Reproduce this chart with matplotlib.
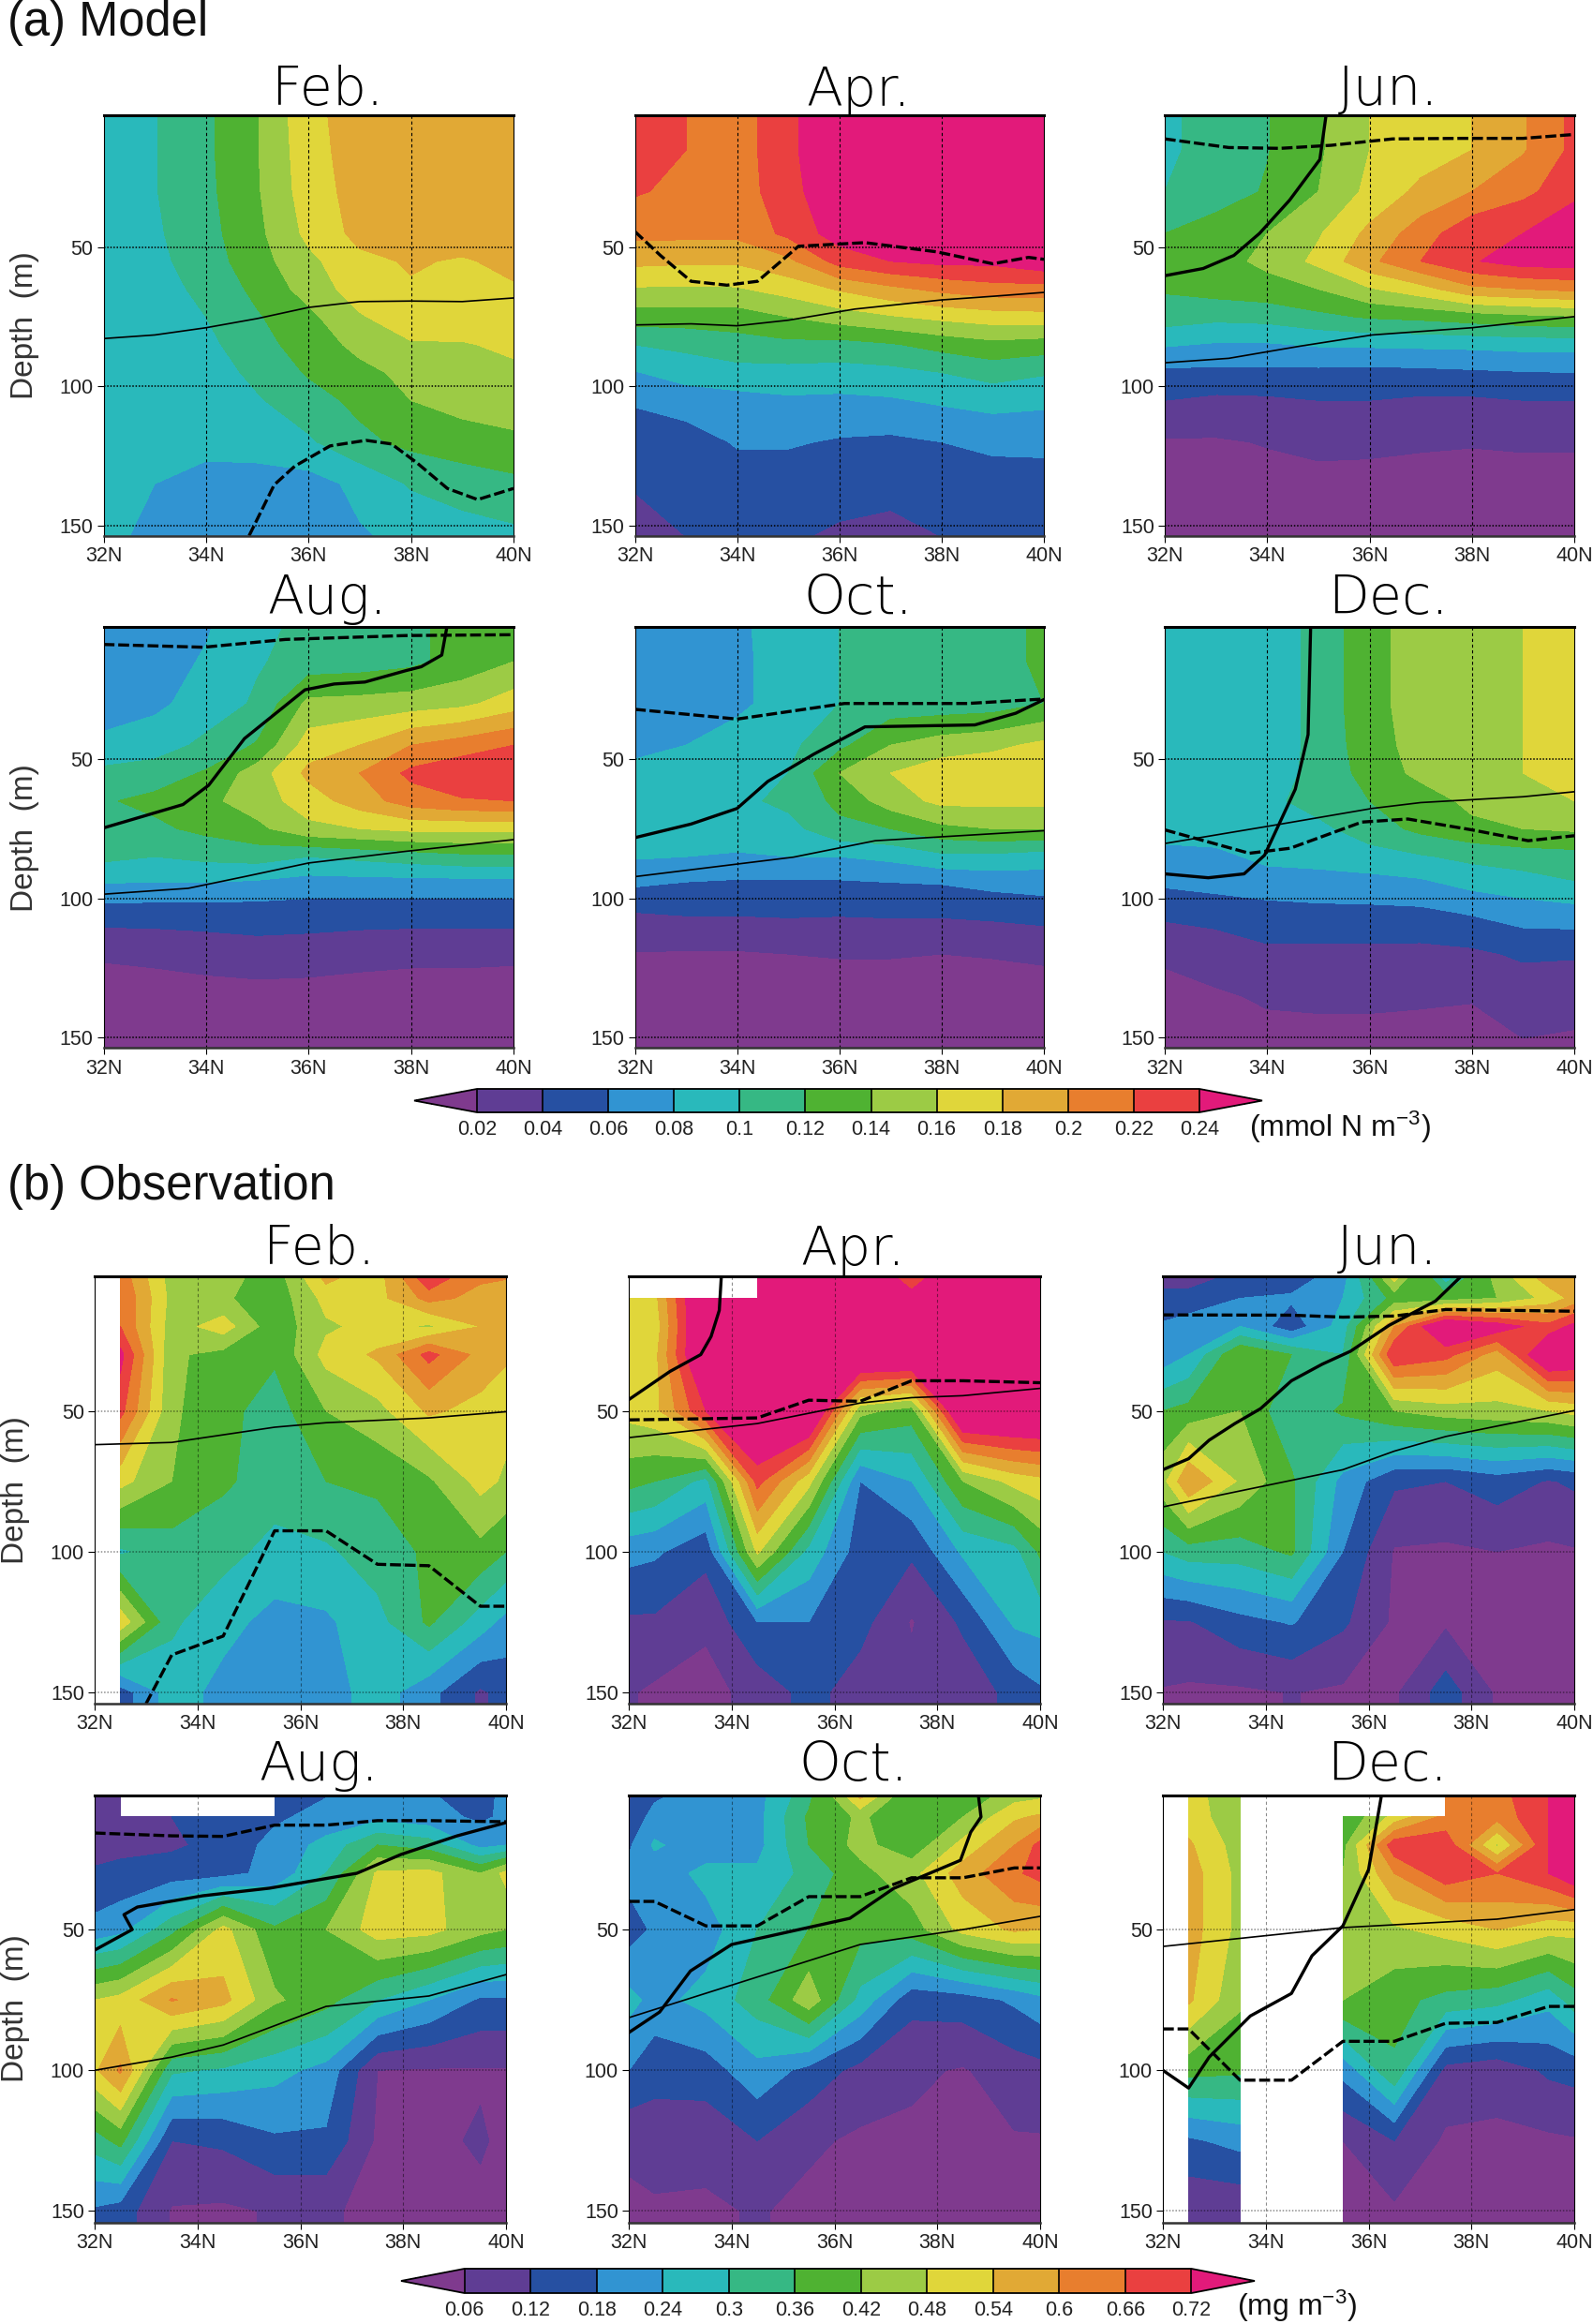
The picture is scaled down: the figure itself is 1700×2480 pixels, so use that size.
import matplotlib
matplotlib.use("Agg")
import matplotlib.pyplot as plt
import numpy as np

plt.rcParams['font.family'] = ['Liberation Sans', 'DejaVu Sans']
plt.rcParams['mathtext.default'] = 'regular'

W, H = 1700, 2480
nan = np.nan

colors = ['#7F3A8E', '#5F3D94', '#2650A2', '#3194D2', '#29B9BB', '#36B884', '#4FB232',
          '#9CCB45', '#E0D63A', '#E1A935', '#E87E2E', '#EA4040', '#E21A7A']
model_levels = [0.02, 0.04, 0.06, 0.08, 0.1, 0.12, 0.14, 0.16, 0.18, 0.2, 0.22, 0.24]
obs_levels = [0.06, 0.12, 0.18, 0.24, 0.3, 0.36, 0.42, 0.48, 0.54, 0.6, 0.66, 0.72]
model_ticklabels = ['0.02', '0.04', '0.06', '0.08', '0.1', '0.12', '0.14', '0.16', '0.18', '0.2', '0.22', '0.24']
obs_ticklabels = ['0.06', '0.12', '0.18', '0.24', '0.3', '0.36', '0.42', '0.48', '0.54', '0.6', '0.66', '0.72']
months = ['Feb.', 'Apr.', 'Jun.', 'Aug.', 'Oct.', 'Dec.']
lat_ticks = [32, 34, 36, 38, 40]
lat_labels = ['32N', '34N', '36N', '38N', '40N']
depth_ticks = [50, 100, 150]

# Model section, mmol N m-3
model_lat = [32, 33, 34, 35, 36, 37, 38, 39, 40]
model_depth = [2.5, 15, 30, 45, 55, 65, 75, 85, 95, 105, 120, 135, 154]

m_feb = [
    [.095, .099, .116, .139, .174, .19, .19, .19, .19],
    [.09, .099, .116, .139, .172, .19, .19, .19, .19],
    [.09, .099, .115, .138, .17, .188, .19, .19, .19],
    [.09, .097, .113, .135, .165, .186, .19, .19, .19],
    [.09, .095, .11, .132, .155, .175, .182, .178, .185],
    [.09, .092, .105, .125, .148, .17, .178, .178, .178],
    [.09, .09, .10, .118, .135, .158, .172, .175, .175],
    [.09, .088, .095, .112, .13, .145, .158, .158, .165],
    [.09, .087, .09, .105, .122, .135, .145, .15, .155],
    [.09, .086, .088, .098, .112, .125, .14, .148, .152],
    [.088, .085, .085, .09, .097, .115, .125, .13, .135],
    [.082, .08, .074, .07, .072, .085, .102, .11, .115],
    [.085, .075, .07, .07, .07, .078, .085, .09, .095],
]
m_apr = [
    [.225, .22, .21, .235, .26, .27, .27, .27, .27],
    [.225, .22, .21, .235, .26, .27, .27, .27, .27],
    [.222, .215, .21, .232, .258, .27, .27, .27, .27],
    [.205, .205, .205, .225, .25, .26, .27, .27, .27],
    [.185, .183, .183, .195, .228, .24, .245, .245, .255],
    [.158, .157, .158, .168, .182, .195, .205, .212, .212],
    [.13, .13, .13, .14, .15, .158, .165, .17, .172],
    [.10, .105, .112, .115, .113, .118, .127, .134, .13],
    [.079, .088, .093, .093, .092, .094, .10, .108, .102],
    [.062, .07, .073, .077, .076, .078, .083, .087, .084],
    [.05, .05, .062, .062, .058, .056, .06, .065, .066],
    [.042, .05, .05, .05, .05, .05, .05, .05, .05],
    [.03, .04, .045, .043, .036, .03, .04, .045, .045],
]
m_jun = [
    [.095, .11, .119, .137, .16, .17, .18, .198, .225],
    [.095, .11, .119, .137, .16, .17, .18, .198, .225],
    [.10, .11, .122, .14, .165, .185, .20, .215, .232],
    [.12, .13, .14, .158, .185, .21, .235, .24, .265],
    [.125, .132, .145, .165, .195, .22, .238, .25, .25],
    [.122, .128, .132, .14, .158, .172, .195, .20, .205],
    [.11, .105, .107, .115, .122, .125, .13, .135, .138],
    [.082, .078, .078, .082, .083, .084, .085, .087, .087],
    [.056, .055, .055, .055, .054, .055, .057, .059, .06],
    [.04, .036, .037, .04, .04, .037, .037, .04, .04],
    [.018, .018, .021, .025, .024, .022, .021, .022, .022],
    [.014, .014, .014, .014, .014, .014, .014, .014, .014],
    [.01, .01, .01, .01, .01, .01, .01, .01, .01],
]
m_aug = [
    [.07, .07, .078, .095, .105, .11, .117, .125, .135],
    [.07, .072, .082, .098, .108, .11, .115, .128, .14],
    [.07, .076, .088, .103, .145, .147, .15, .155, .17],
    [.085, .09, .105, .122, .17, .18, .20, .21, .22],
    [.105, .11, .122, .15, .185, .20, .225, .235, .235],
    [.118, .125, .135, .15, .17, .19, .21, .218, .22],
    [.115, .116, .125, .135, .155, .16, .165, .165, .165],
    [.105, .10, .105, .108, .10, .105, .11, .115, .115],
    [.079, .078, .078, .075, .07, .07, .07, .07, .07],
    [.05, .05, .05, .05, .05, .05, .05, .05, .05],
    [.022, .024, .028, .032, .03, .026, .024, .024, .023],
    [.012, .012, .012, .012, .012, .012, .012, .012, .012],
    [.01, .01, .01, .01, .01, .01, .01, .01, .01],
]
m_oct = [
    [.07, .07, .076, .09, .10, .11, .11, .11, .125],
    [.07, .07, .076, .088, .10, .108, .11, .11, .125],
    [.07, .072, .075, .09, .10, .108, .108, .11, .12],
    [.075, .08, .09, .095, .115, .14, .15, .155, .165],
    [.085, .088, .09, .10, .14, .16, .172, .175, .18],
    [.085, .085, .095, .105, .125, .15, .165, .165, .165],
    [.085, .085, .09, .093, .115, .12, .135, .14, .14],
    [.082, .08, .078, .08, .08, .085, .095, .095, .09],
    [.062, .058, .056, .056, .056, .058, .06, .065, .068],
    [.04, .042, .042, .043, .042, .043, .043, .045, .048],
    [.019, .018, .018, .02, .021, .021, .02, .021, .023],
    [.012, .012, .012, .012, .012, .012, .012, .012, .012],
    [.01, .01, .01, .01, .01, .01, .01, .01, .01],
]
m_dec = [
    [.09, .09, .09, .105, .135, .147, .152, .16, .172],
    [.09, .09, .09, .105, .135, .147, .152, .16, .172],
    [.09, .09, .09, .105, .135, .147, .152, .16, .172],
    [.09, .09, .09, .105, .132, .147, .152, .16, .172],
    [.09, .09, .092, .105, .128, .145, .15, .16, .17],
    [.09, .09, .095, .108, .12, .13, .145, .152, .16],
    [.09, .09, .09, .095, .11, .125, .135, .14, .143],
    [.072, .075, .085, .088, .092, .098, .105, .11, .112],
    [.062, .066, .07, .07, .072, .075, .085, .09, .098],
    [.045, .048, .052, .055, .055, .056, .062, .07, .072],
    [.022, .028, .036, .035, .035, .034, .036, .043, .042],
    [.016, .018, .022, .023, .023, .022, .021, .028, .027],
    [.012, .012, .014, .014, .014, .014, .014, .018, .016],
]

# Observation section, mg m-3
obs_lat = [32, 32.5, 33.5, 34.5, 35.5, 36.5, 37.5, 38.5, 39.5, 40]
obs_depth = [0, 10, 20, 30, 50, 75, 100, 125, 150, 160]

o_feb = [
    [nan, .63, .45, .45, .39, .58, .51, .75, .62, .62],
    [nan, .66, .46, .43, .38, .50, .52, .62, .58, .56],
    [nan, .66, .45, .51, .38, .47, .50, .47, .54, .56],
    [nan, .74, .43, .40, .37, .50, .55, .68, .58, .55],
    [nan, .68, .43, .38, .33, .42, .46, .55, .52, .50],
    [nan, .50, .42, .37, .33, .36, .37, .41, .50, .47],
    [nan, .29, .33, .32, .28, .29, .33, .37, .40, .36],
    [nan, .52, .31, .26, .22, .23, .28, .37, .27, .22],
    [nan, .15, .27, .22, .21, .21, .27, .20, .11, .14],
    [nan, .15, .27, .22, .21, .21, .27, .20, .11, .14],
]
o_apr = [
    [nan, nan, nan, .8, .8, .8, .65, .8, .8, .8],
    [.5, .52, .85, .85, .85, .85, .75, .85, .85, .85],
    [.5, .5, .85, .85, .85, .85, .85, .85, .85, .85],
    [.5, .52, .85, .85, .85, .85, .85, .85, .85, .85],
    [.5, .52, .72, .85, .85, .44, .39, .85, .85, .85],
    [.38, .36, .28, .68, .50, .18, .24, .42, .50, .52],
    [.20, .19, .14, .49, .28, .15, .13, .25, .28, .37],
    [.11, .11, .07, .18, .18, .14, .055, .13, .25, .26],
    [.065, .05, .04, .08, .14, .09, .08, .08, .14, .17],
    [.065, .05, .04, .08, .14, .09, .08, .08, .14, .17],
]
o_jun = [
    [.10, .10, .12, .13, .20, .55, .22, .46, .60, .57],
    [.13, .13, .18, .19, .24, .38, .39, .42, .50, .56],
    [.19, .22, .24, .14, .27, .60, .82, .76, .68, .74],
    [.20, .24, .42, .36, .30, .72, .68, .57, .82, .80],
    [.36, .38, .42, .31, .37, .42, .45, .46, .48, .50],
    [.46, .60, .47, .37, .22, .13, .12, .15, .115, .13],
    [.30, .33, .33, .37, .18, .055, .05, .06, .05, .055],
    [.115, .115, .16, .185, .13, .05, .05, .05, .05, .05],
    [.055, .05, .05, .062, .05, .05, .15, .05, .05, .05],
    [.055, .05, .05, .062, .05, .05, .15, .05, .05, .05],
]
o_aug = [
    [.10, .10, nan, nan, .15, .17, .20, .18, .15, .20],
    [.09, .09, .12, .15, .17, .20, .22, .20, .17, .19],
    [.09, .10, .11, .14, .20, .26, .36, .33, .22, .24],
    [.13, .14, .15, .16, .20, .30, .49, .50, .42, .50],
    [.20, .22, .34, .50, .37, .42, .51, .50, .44, .42],
    [.48, .50, .605, .56, .43, .38, .30, .24, .17, .17],
    [.53, .61, .31, .29, .26, .22, .06, .055, .055, .055],
    [.33, .38, .12, .13, .17, .17, .05, .05, .065, .05],
    [.17, .15, .055, .05, .065, .065, .05, .05, .05, .05],
    [.17, .15, .055, .05, .065, .065, .05, .05, .05, .05],
]
o_oct = [
    [.10, .16, .20, .22, .33, .60, .38, .38, .43, .44],
    [.14, .20, .22, .22, .37, .43, .37, .42, .53, .55],
    [.17, .25, .20, .22, .36, .44, .38, .50, .60, .68],
    [.20, .20, .26, .25, .32, .40, .46, .57, .65, .68],
    [.15, .19, .21, .30, .36, .38, .39, .50, .55, .54],
    [.26, .22, .26, .33, .46, .28, .14, .15, .19, .22],
    [.18, .14, .15, .22, .16, .10, .07, .055, .09, .10],
    [.07, .09, .08, .12, .07, .05, .05, .05, .055, .055],
    [.05, .05, .05, .065, .045, .045, .045, .045, .045, .045],
    [.05, .05, .05, .065, .045, .045, .045, .045, .045, .045],
]
o_dec = [
    [nan, .50, .44, nan, .36, nan, .60, .64, .72, .74],
    [nan, .51, .44, nan, .36, .50, .62, .62, .72, .75],
    [nan, .55, .45, nan, .40, .70, .70, .47, .72, .78],
    [nan, .57, .46, nan, .42, .60, .70, .66, .72, .78],
    [nan, .57, .46, nan, .45, .47, .50, .54, .50, .50],
    [nan, .55, .43, nan, .42, .38, .34, .32, .26, .33],
    [nan, .38, .37, nan, .20, .35, .10, .08, .13, .14],
    [nan, .17, .20, nan, .06, .12, .05, .05, .05, .055],
    [nan, .07, .07, nan, .045, .05, .045, .045, .045, .045],
    [nan, .07, .07, nan, .045, .05, .045, .045, .045, .045],
]

# Contour lines drawn over the sections: (latitudes, depths)
m_thick = [
    None,
    None,
    ([35.15, 35.03, 34.44, 33.85, 33.35, 32.75, 32], [2.7, 18.4, 33, 45, 52.9, 57.6, 60.2]),
    ([32, 33.55, 34.05, 34.75, 35.93, 36.5, 37.1, 37.9, 38.2, 38.6, 38.7],
     [74.7, 66.3, 59.4, 42.6, 25.1, 23, 22.3, 18.2, 16.8, 12.6, 2.5]),
    ([32, 33.1, 34, 34.6, 35.5, 36.5, 38.65, 39.45, 40], [78.2, 73.3, 67.7, 58, 48.2, 38.4, 37.7, 33.5, 28.6]),
    ([32, 32.85, 33.55, 33.95, 34.55, 34.8, 34.85], [91.2, 92.6, 91.2, 84.5, 60.8, 41.2, 2.5]),
]
m_dashed = [
    ([34.84, 35.33, 35.73, 36.42, 37.12, 37.62, 38.11, 38.71, 39.3, 40],
     [153.7, 135.4, 128.7, 121.4, 119.4, 120.7, 127.4, 136.7, 140.7, 136.7]),
    ([32, 32.5, 33.1, 33.8, 34.4, 35.2, 36.5, 37.9, 39, 39.7, 40],
     [44.3, 52.9, 62.2, 63.6, 62.2, 49.6, 48.3, 51.6, 55.9, 53.6, 54.3]),
    ([32, 33.25, 34.25, 35.25, 36.45, 37.8, 39, 40], [11, 14.1, 14.4, 13.3, 11, 10.8, 10.8, 9.4]),
    ([32, 33.95, 35.55, 37.9, 40], [8.8, 9.8, 7, 5.6, 5.3]),
    ([32, 34, 36.1, 38.5, 40], [32.1, 35.6, 30, 30, 28.4]),
    ([32, 33.65, 34.45, 35.85, 36.75, 38, 39.1, 40], [75.4, 83.8, 82, 72.6, 71.5, 75.4, 79.3, 77.5]),
]
m_thin = [
    ([32, 33, 34, 35, 36, 37, 38, 39, 40], [82.8, 81.5, 78.9, 75.6, 71.6, 69.5, 69.3, 69.5, 68.2]),
    ([32, 33.1, 34, 35, 36.3, 38, 39, 40], [77.9, 77.5, 78.2, 76.2, 72.2, 68.9, 67.6, 66.2]),
    ([32, 33.25, 34.65, 36.05, 38, 40], [91.5, 89.9, 85.5, 81.5, 78.9, 74.9]),
    ([32, 33.65, 34.75, 36, 37.9, 40], [98.5, 96.4, 92.2, 87.3, 83.1, 78.9]),
    ([32, 35.1, 36.7, 40], [92.2, 85.2, 79.3, 75.7]),
    ([32, 34.05, 36.05, 37, 39, 40], [80.3, 74, 67.7, 65.6, 63.5, 61.7]),
]
o_thick = [
    None,
    ([33.8, 33.76, 33.6, 33.4, 32.8, 32], [2.2, 14.3, 23.6, 30, 36, 46]),
    ([32, 32.5, 32.9, 33.4, 33.9, 34.5, 35.1, 35.65, 36.4, 37.3, 37.8],
     [70.9, 67, 60.4, 54.5, 49.2, 39.3, 33.4, 28.8, 19.6, 11, 2.2]),
    ([32, 32.73, 32.57, 32.83, 34.1, 35.4, 37.1, 37.96, 39.05, 40],
     [57.3, 50, 44.7, 42, 38, 35.3, 30, 23.3, 16.7, 12]),
    ([32, 32.6, 33.2, 34, 36.3, 37.15, 38.45, 38.65, 38.85, 38.8],
     [86.6, 79.3, 64.7, 55.3, 46, 35.4, 25.4, 15.4, 10, 2.4]),
    ([32, 32.5, 32.9, 33.7, 34.5, 34.9, 35.5, 36, 36.25], [100, 106.3, 95.3, 80.7, 72.7, 59.3, 48.7, 28.7, 2.4]),
]
o_dashed = [
    ([33, 33.5, 34.5, 35.5, 36.5, 37.5, 38.5, 39.5, 40], [154, 136.7, 130, 92.6, 92.6, 104.5, 105, 119.4, 119.4]),
    ([32, 34.5, 35.5, 36.5, 37.5, 38.5, 40], [53.2, 52.5, 46.2, 46.6, 39.3, 39.3, 40]),
    ([32, 34.5, 35.5, 36.5, 37.5, 40], [15.9, 16, 16.7, 16.3, 14, 14.6]),
    ([32, 33.5, 34.5, 35.5, 36.5, 37.5, 38.5, 40], [15.7, 16.7, 16.9, 12.9, 12.9, 11.3, 11.3, 11.7]),
    ([32, 32.5, 33.5, 34.5, 35.5, 36.5, 37.5, 38.5, 39.5, 40], [40, 40, 48.7, 48.7, 38.3, 38.3, 31.6, 31.6, 28.1, 28.1]),
    ([32, 32.5, 33.5, 34.5, 35.5, 36.5, 37.5, 38.5, 39.5, 40], [85.3, 85.3, 103.5, 103.5, 89.7, 89.7, 83.3, 83, 77.3, 77.3]),
]
o_thin = [
    ([32, 33.5, 35.5, 36.5, 38.5, 40], [62, 61.2, 55.8, 54.2, 52.5, 50.3]),
    ([32, 34.5, 36.5, 37.5, 38.5, 40], [59.5, 54.5, 47.2, 45.3, 44.6, 42]),
    ([32, 35.5, 36.5, 37.5, 38.5, 40], [84.1, 70.9, 64.3, 59.1, 55.4, 49.9]),
    ([32, 33.5, 34.5, 36.5, 38.5, 40], [100, 95.3, 91, 77.3, 73.6, 66]),
    ([32, 36.5, 38.5, 40], [81.3, 55.3, 50, 45.3]),
    ([32, 35.5, 38.5, 40], [56, 49.3, 46.3, 42.9]),
]


def add_axes_px(fig, x0, y0, x1, y1):
    return fig.add_axes([x0 / W, 1 - y1 / H, (x1 - x0) / W, (y1 - y0) / H])


def draw_panel(fig, box, lat, depth, z, levels, thick, dashed, thin, ylim, grid_alpha, title, title_y, ylabel_x=None):
    ax = add_axes_px(fig, *box)
    cf = ax.contourf(lat, depth, np.array(z), levels=levels, colors=colors, extend='both', corner_mask=False)
    ax.set_xlim(32, 40)
    ax.set_ylim(*ylim)
    ax.set_xticks(lat_ticks)
    ax.set_xticklabels(lat_labels, fontsize=15.5, color='#222222')
    ax.set_yticks(depth_ticks)
    ax.set_yticklabels([str(d) for d in depth_ticks], fontsize=15.5, color='#222222')
    ax.tick_params(length=5, width=0.8, pad=3)
    ax.vlines(lat_ticks[1:-1], ylim[1], ylim[0], colors='k', linewidth=0.8, linestyles=(0, (3, 2.5)), alpha=grid_alpha)
    ax.hlines(depth_ticks, 32, 40, colors='k', linewidth=1.1, linestyles=(0, (1, 1.2)), alpha=grid_alpha)

    if thin is not None:
        ax.plot(thin[0], thin[1], color='k', linewidth=1.2)
    if thick is not None:
        ax.plot(thick[0], thick[1], color='k', linewidth=2.4)
    ax.plot(dashed[0], dashed[1], color='k', linewidth=2.4, linestyle=(0, (3.5, 1.2)))

    for side in ['left', 'right']:
        ax.spines[side].set_linewidth(0.8)
    ax.spines['top'].set_linewidth(2.2)
    ax.spines['bottom'].set_linewidth(1.8)
    ax.spines['bottom'].set_color('#333333')

    cx = (box[0] + box[2]) / 2 + 20
    fig.text(cx / W, 1 - title_y / H, title, ha='center', va='baseline', fontsize=41,
             family=['DejaVu Sans'], fontweight=200, color='k')
    if ylabel_x is not None:
        fig.text(ylabel_x / W, 1 - (box[1] + box[3]) / 2 / H, 'Depth  (m)', rotation=90, ha='center', va='center',
                 fontsize=24, color='#333333')
    return cf


def draw_colorbar(fig, cf, box, labels, unit, unit_x, unit_y):
    cax = add_axes_px(fig, *box)
    cb = fig.colorbar(cf, cax=cax, orientation='horizontal', extend='both', extendfrac=0.087, drawedges=True)
    cb.set_ticks(cf.levels)
    cb.set_ticklabels(labels, fontsize=15.5, color='#222222')
    cb.ax.tick_params(length=0, pad=6)
    cb.outline.set_linewidth(1.3)
    cb.dividers.set_linewidth(1.2)
    fig.text(unit_x / W, 1 - unit_y / H, unit, ha='left', va='center', fontsize=23, color='#111111')


fig = plt.figure(figsize=(W / 100, H / 100), dpi=100)

fig.text(8 / W, 1 - 38 / H, '(a) Model', ha='left', va='baseline', fontsize=36.5, color='#111111')
fig.text(8 / W, 1 - 1280 / H, '(b) Observation', ha='left', va='baseline', fontsize=36.5, color='#111111')

col_m = [(110.5, 548), (677.5, 1114), (1243, 1680)]
row_m = [(123, 572, 112), (669, 1118.5, 655)]
col_o = [(101, 540), (671, 1110), (1241, 1680)]
row_o = [(1362, 1818, 1349), (1915.5, 2371.5, 1900)]

model_fields = [m_feb, m_apr, m_jun, m_aug, m_oct, m_dec]
obs_fields = [o_feb, o_apr, o_jun, o_aug, o_oct, o_dec]

for i in range(6):
    c = i % 3
    r = i // 3
    x0, x1 = col_m[c]
    y0, y1, ty = row_m[r]
    cf_m = draw_panel(fig, (x0, y0, x1, y1), model_lat, model_depth, model_fields[i], model_levels,
                      m_thick[i], m_dashed[i], m_thin[i], (153.8, 2.5), 1.0, months[i], ty,
                      ylabel_x=27 if c == 0 else None)
    x0, x1 = col_o[c]
    y0, y1, ty = row_o[r]
    cf_o = draw_panel(fig, (x0, y0, x1, y1), obs_lat, obs_depth, obs_fields[i], obs_levels,
                      o_thick[i], o_dashed[i], o_thin[i], (154, 2.2), 0.45, months[i], ty,
                      ylabel_x=17 if c == 0 else None)

draw_colorbar(fig, cf_m, (442, 1162, 1347, 1187), model_ticklabels, '(mmol N m$^{-3}$)', 1333, 1203)
draw_colorbar(fig, cf_o, (428, 2421, 1339, 2447), obs_ticklabels, '(mg m$^{-3}$)', 1320, 2461)

fig.savefig('out.png', dpi=100)
